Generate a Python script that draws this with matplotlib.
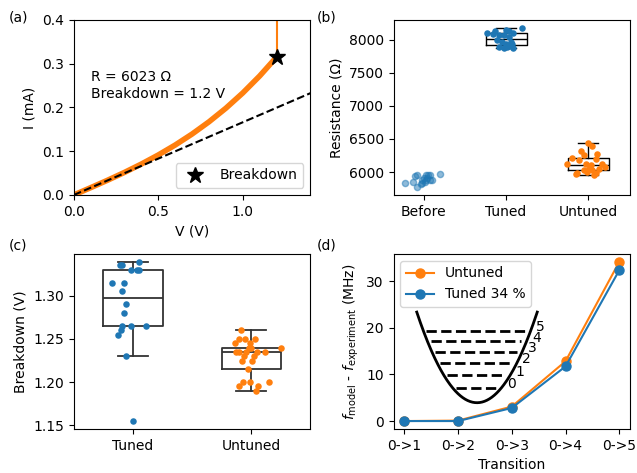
import numpy as np
import matplotlib
matplotlib.use('Agg')
import matplotlib.pyplot as plt

# (a) IV curve
R_ohm = 6023
breakdown_v = 1.2
iv_voltage = [0.0, 0.1, 0.2, 0.3, 0.4, 0.5, 0.6, 0.7, 0.8, 0.9, 1.0, 1.1, 1.2]
iv_current = [0.0, 0.0167, 0.0337, 0.0516, 0.0707, 0.0914, 0.1141, 0.1392,
              0.1671, 0.1982, 0.2330, 0.2718, 0.3150]
after_voltage = [1.2, 1.2]
after_current = [0.3150, 0.45]

# (b) resistance
res_before = [5840, 5855, 5935, 5950, 5774, 5824, 5885, 5915, 5875, 5960,
              5950, 5955, 5885, 5885, 5975, 5834, 5845, 5910]
jit_before = [-0.235, -0.13, -0.11, -0.08, -0.08, -0.04, -0.02, 0.0, 0.02, 0.03,
              0.05, 0.07, 0.08, 0.1, 0.2, -0.02, 0.01, 0.04]
res_tuned = [8106, 8126, 8181, 8151, 8131, 8100, 8065, 8075, 8040, 7990,
             7965, 7965, 7890, 7875, 7890, 7900, 7875, 7940, 8090, 7930]
jit_tuned = [-0.23, -0.13, 0.2, 0.0, 0.04, 0.08, -0.09, -0.03, 0.04, -0.11,
             -0.05, 0.06, -0.09, -0.03, 0.01, 0.04, 0.09, 0.0, -0.16, 0.07]
res_untuned = [6438, 6392, 6317, 6277, 6210, 6252, 6200, 6126, 6176, 6126, 6100,
               6126, 6075, 6050, 5985, 5975, 6000, 6025, 5985, 5960, 6030, 6050]
jit_untuned = [0.0, 0.05, -0.09, 0.11, -0.2, -0.05, 0.09, -0.26, -0.11, -0.03, 0.03,
               0.17, 0.21, 0.01, -0.13, -0.15, -0.01, 0.05, 0.09, 0.07, -0.05, 0.13]
res_labels = ['Before', 'Tuned', 'Untuned']

# (c) breakdown voltage
bd_tuned = [1.335, 1.335, 1.330, 1.330, 1.339, 1.330, 1.315, 1.315, 1.305,
            1.290, 1.280, 1.265, 1.265, 1.265, 1.260, 1.255, 1.230, 1.155]
jit_bd_tuned = [-0.107, -0.09, -0.014, 0.03, 0.05, 0.05, -0.18, -0.08, -0.09,
                -0.06, -0.08, -0.09, -0.014, 0.11, -0.1, -0.13, -0.06, 0.0]
bd_untuned = [1.260, 1.250, 1.250, 1.250, 1.245, 1.245, 1.240, 1.240, 1.240,
              1.235, 1.235, 1.235, 1.235, 1.235, 1.230, 1.230, 1.225, 1.225,
              1.215, 1.200, 1.200, 1.200, 1.195, 1.195, 1.190]
jit_bd_untuned = [-0.09, -0.05, 0.03, -0.1, -0.14, -0.01, 0.0, 0.25, -0.02,
                  -0.13, -0.1, -0.04, 0.05, 0.12, -0.06, 0.02, -0.08, 0.01,
                  -0.03, -0.07, -0.01, 0.15, -0.1, 0.06, 0.04]
bd_labels = ['Tuned', 'Untuned']

# (d) frequency error per transition
transitions = ['0->1', '0->2', '0->3', '0->4', '0->5']
err_untuned = [0.0, 0.1, 3.1, 12.8, 34.1]
err_tuned = [0.0, 0.0, 2.8, 11.7, 32.3]
# sketch of the potential: level heights in data units of panel (d)
levels = [7.15, 9.85, 12.5, 14.9, 17.1, 19.4]


def draw_iv(ax):
    ax.plot(iv_voltage, iv_current, color='C1', lw=4, solid_capstyle='round')
    ax.plot(after_voltage, after_current, color='C1', lw=1.5)
    v_fit = np.array([0.0, 1.5])
    ax.plot(v_fit, v_fit / R_ohm * 1e3, 'k--', lw=1.5)
    ax.plot([breakdown_v], [iv_current[-1]], 'k*', ms=12, ls='none', label='Breakdown')
    ax.text(0.1, 0.25, f'R = {R_ohm} Ω\nBreakdown = {breakdown_v} V', va='center')
    ax.set_xlim(0, 1.4)
    ax.set_ylim(0, 0.4)
    ax.set_xlabel('V (V)')
    ax.set_ylabel('I (mA)')
    ax.legend(loc='lower right')


def draw_resistance(ax):
    ax.scatter(np.array(jit_before), res_before, s=20, color='C0', alpha=0.5, zorder=3)
    ax.scatter(1 + np.array(jit_tuned), res_tuned, s=22, color='C0', lw=0, zorder=3)
    ax.scatter(2 + np.array(jit_untuned), res_untuned, s=22, color='C1', lw=0, zorder=3)
    props = dict(color='k', lw=1)
    ax.boxplot([res_tuned, res_untuned], positions=[1, 2], widths=0.5,
               showfliers=False, boxprops=props, whiskerprops=props,
               capprops=props, medianprops=props, manage_ticks=False)
    ax.set_xticks([0, 1, 2], res_labels)
    ax.set_xlim(-0.37, 2.51)
    ax.set_ylabel('Resistance (Ω)')


def draw_breakdown(ax):
    ax.scatter(np.array(jit_bd_tuned), bd_tuned, s=22, color='C0', lw=0, zorder=3)
    ax.scatter(1 + np.array(jit_bd_untuned), bd_untuned, s=22, color='C1', lw=0, zorder=3)
    props = dict(color='0.2', lw=1.3)
    ax.boxplot([bd_tuned, bd_untuned], positions=[0, 1], widths=0.5,
               showfliers=False, boxprops=props, whiskerprops=props,
               capprops=props, medianprops=props, manage_ticks=False)
    ax.set_xticks([0, 1], bd_labels)
    ax.set_xlim(-0.5, 1.5)
    ax.set_yticks([1.15, 1.20, 1.25, 1.30])
    ax.set_ylabel('Breakdown (V)')


def draw_transitions(ax):
    x = np.arange(len(transitions))
    ax.plot(x, err_untuned, 'o-', color='C1', ms=6.5, label='Untuned')
    ax.plot(x, err_tuned, 'o-', color='C0', ms=6.5, label='Tuned 34 %')
    ax.set_xticks(x, transitions)
    ax.set_xlabel('Transition')
    ax.set_ylabel(r'$f_{\rm model}$ - $f_{\rm experiment}$ (MHz)')
    ax.legend(loc='upper left')

    # schematic potential well with levels
    xc, ybot, curv = 1.353, 3.93, 15.45
    xs = np.linspace(xc - 1.121, xc + 1.121, 200)
    ax.plot(xs, ybot + curv * (xs - xc) ** 2, color='k', lw=2)
    for n, lev in enumerate(levels):
        half = np.sqrt((lev - ybot) / curv)
        ax.plot([xc - half + 0.06, xc + half - 0.1], [lev, lev], 'k--', lw=2)
        ax.text(xc + half + 0.18, lev + 0.7, str(n), ha='center', va='center')


def main():
    fig, axs = plt.subplots(2, 2, figsize=(6.37, 4.73), dpi=100)
    fig.subplots_adjust(left=0.116, right=0.989, top=0.958, bottom=0.093,
                        wspace=0.352, hspace=0.337)
    draw_iv(axs[0, 0])
    draw_resistance(axs[0, 1])
    draw_breakdown(axs[1, 0])
    draw_transitions(axs[1, 1])

    for label, (x, y) in zip(['(a)', '(b)', '(c)', '(d)'],
                             [(0.013, 0.963), (0.498, 0.963),
                              (0.013, 0.481), (0.498, 0.481)]):
        fig.text(x, y, label, va='center')

    fig.savefig('out.png', dpi=100)


if __name__ == '__main__':
    main()
